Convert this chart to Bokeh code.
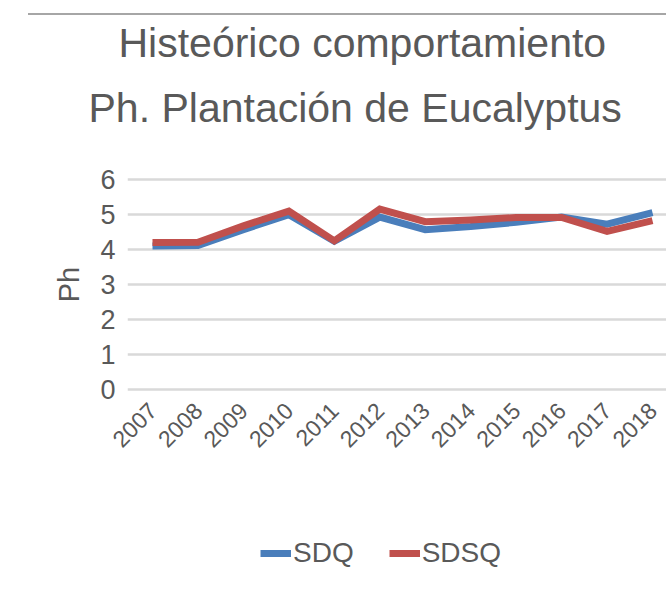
import math
from bokeh.plotting import figure
from bokeh.layouts import column
from bokeh.models import Range1d, FixedTicker, Legend, LegendItem, ColumnDataSource, Title
from bokeh.embed import file_html
from bokeh.resources import INLINE

years = [2007, 2008, 2009, 2010, 2011, 2012, 2013, 2014, 2015, 2016, 2017, 2018]
sdq = [4.10, 4.12, 4.57, 5.00, 4.24, 4.93, 4.57, 4.66, 4.78, 4.93, 4.73, 5.06]
sdsq = [4.20, 4.21, 4.68, 5.10, 4.25, 5.16, 4.80, 4.85, 4.92, 4.92, 4.52, 4.83]
y_ticks = [0, 1, 2, 3, 4, 5, 6]
series_names = ["SDQ", "SDSQ"]
series_colors = ["#4a7ebb", "#c0504d"]
title_lines = ["Histeórico comportamiento", "Ph. Plantación de Eucalyptus"]
y_label = "Ph"

FONT = "Liberation Sans"
TXT = "#595959"

src = ColumnDataSource(dict(year=years, sdq=sdq, sdsq=sdsq))

# ---------------- main chart ----------------
p = figure(width=666, height=465,
           x_range=Range1d(2006.45, 2018.308), y_range=Range1d(-0.15, 6.15),
           output_backend="svg", toolbar_location=None,
           min_border_top=174, min_border_left=127, min_border_right=0,
           min_border_bottom=71)
p.outline_line_color = None
p.background_fill_color = "white"
p.border_fill_color = None
# thin grey rule across the top of the page
p.styles = {"background-image": "linear-gradient(#a6a6a6, #a6a6a6)",
            "background-size": "638px 2px",
            "background-position": "28px 13px",
            "background-repeat": "no-repeat",
            "background-color": "white"}

p.xgrid.visible = False
p.ygrid.ticker = FixedTicker(ticks=y_ticks)
p.ygrid.grid_line_color = "#d9d9d9"
p.ygrid.grid_line_width = 2.5

p.yaxis.ticker = FixedTicker(ticks=y_ticks)
p.yaxis.axis_line_color = None
p.yaxis.major_tick_line_color = None
p.yaxis.minor_tick_line_color = None
p.yaxis.major_label_text_font = FONT
p.yaxis.major_label_text_font_size = "27px"
p.yaxis.major_label_text_color = TXT
p.yaxis.major_label_standoff = 6
p.yaxis.axis_label = y_label
p.yaxis.axis_label_text_font = FONT
p.yaxis.axis_label_text_font_size = "29px"
p.yaxis.axis_label_text_font_style = "normal"
p.yaxis.axis_label_text_color = TXT
p.yaxis.axis_label_standoff = 12

p.xaxis.ticker = FixedTicker(ticks=years)
p.xaxis.axis_line_color = None
p.xaxis.major_tick_line_color = None
p.xaxis.minor_tick_line_color = None
p.xaxis.major_label_orientation = math.pi / 4
p.xaxis.major_label_text_font = FONT
p.xaxis.major_label_text_font_size = "23px"
p.xaxis.major_label_text_color = TXT
p.xaxis.major_label_standoff = 6

r1 = p.line("year", "sdq", source=src, line_color=series_colors[0], line_width=7, line_join="miter")
r2 = p.line("year", "sdsq", source=src, line_color=series_colors[1], line_width=7, line_join="miter")

# title panels, nearest-to-frame first: spacer, line 2, line 1
p.add_layout(Title(text=" ", text_font_size="20px", standoff=20), "above")
p.add_layout(Title(text=title_lines[1], align="left", offset=-39, standoff=0,
                   text_font=FONT, text_font_size="41px", text_font_style="normal",
                   text_color=TXT), "above")
p.add_layout(Title(text=title_lines[0], align="left", offset=-9, standoff=34,
                   text_font=FONT, text_font_size="41px", text_font_style="normal",
                   text_color=TXT), "above")

# ---------------- legend strip ----------------
pl = figure(width=666, height=138, x_range=Range1d(2006.45, 2018.308),
            y_range=Range1d(-20, -19), output_backend="svg", toolbar_location=None,
            x_axis_location=None, y_axis_location=None,
            min_border_top=0, min_border_left=0, min_border_right=0, min_border_bottom=0)
pl.outline_line_color = None
pl.grid.grid_line_color = None
pl.background_fill_color = "white"
pl.border_fill_color = "white"
l1 = pl.line("year", "sdq", source=src, line_color=series_colors[0], line_width=7)
l2 = pl.line("year", "sdsq", source=src, line_color=series_colors[1], line_width=7)

legend = Legend(items=[LegendItem(label=series_names[0], renderers=[l1]),
                       LegendItem(label=series_names[1], renderers=[l2])],
                location=(133, 34), orientation="horizontal",
                padding=0, margin=0, spacing=35,
                glyph_width=31, glyph_height=28, label_standoff=2,
                label_text_font=FONT, label_text_font_size="28px",
                label_text_color=TXT,
                border_line_color=None, background_fill_alpha=0)
pl.add_layout(legend, "center")

layout = column(p, pl, spacing=0)
open("out.html", "w").write(file_html(layout, INLINE))
